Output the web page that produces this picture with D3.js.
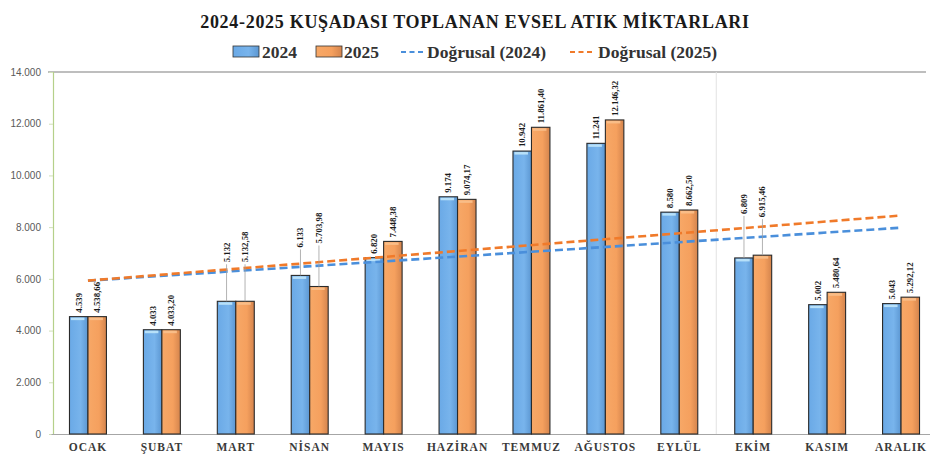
<!DOCTYPE html>
<html><head><meta charset="utf-8">
<script src="https://cdn.jsdelivr.net/npm/d3@7/dist/d3.min.js"></script>
<style>
html,body{margin:0;padding:0;background:#fff;overflow:hidden;}
svg{display:block;}
</style></head>
<body>
<svg id="c" width="930" height="454"></svg>
<script>
const months = ["OCAK","ŞUBAT","MART","NİSAN","MAYIS","HAZİRAN","TEMMUZ","AĞUSTOS","EYLÜL","EKİM","KASIM","ARALIK"];
const values2024 = [4539,4033,5132,6133,6820,9174,10942,11241,8580,6809,5002,5043];
const values2025 = [4538.66,4033.20,5132.58,5703.98,7448.38,9074.17,11861.40,12146.32,8662.50,6915.46,5480.64,5292.12];
const yTicks = [0,2000,4000,6000,8000,10000,12000,14000];
const seriesNames = ["2024","2025"];
const title = "2024-2025 KUŞADASI TOPLANAN EVSEL ATIK MİKTARLARI";
// label lift (px) above bar for labels that use leader lines
const lift2024 = [0,0,35,24,0,0,0,0,0,40,0,0];
const lift2025 = [0,0,35,39,0,0,0,0,0,34,0,0];

const loc = d3.formatLocale({decimal:",",thousands:".",grouping:[3],currency:["","₺"]});
const fInt = loc.format(",.0f");
const fDec = loc.format(",.2f");

const svg = d3.select("#c");
const M={left:51,right:938,top:72,bottom:434};

const x = d3.scaleBand().domain(months).range([M.left,M.right]).paddingInner(0).paddingOuter(0);
const x1 = d3.scaleBand().domain(seriesNames).range([0,x.bandwidth()]).paddingInner(0).paddingOuter(1);
const y = d3.scaleLinear().domain([0,14000]).range([M.bottom,M.top]);

const defs = svg.append("defs");
const gB = defs.append("linearGradient").attr("id","gb").attr("x1","0").attr("x2","1").attr("y1","0").attr("y2","0");
gB.append("stop").attr("offset","0").attr("stop-color","#6aa9e6");
gB.append("stop").attr("offset","0.6").attr("stop-color","#78b4ec");
gB.append("stop").attr("offset","1").attr("stop-color","#5c97d2");
const gO = defs.append("linearGradient").attr("id","go").attr("x1","0").attr("x2","1").attr("y1","0").attr("y2","0");
gO.append("stop").attr("offset","0").attr("stop-color","#f7a867");
gO.append("stop").attr("offset","0.6").attr("stop-color","#f5a05e");
gO.append("stop").attr("offset","1").attr("stop-color","#d4844d");

// Title
svg.append("text").attr("x",475).attr("y",28).attr("text-anchor","middle")
  .attr("font-family","'Liberation Serif','Times New Roman',serif").attr("font-weight","bold")
  .attr("font-size",18).attr("letter-spacing","0.7").attr("fill","#1a1a1a").text(title);

// Legend
const lg = svg.append("g").attr("font-family","'Liberation Serif','Times New Roman',serif")
  .attr("font-weight","bold").attr("font-size",17.5).attr("fill","#333");
lg.append("rect").attr("x",233).attr("y",46).attr("width",26).attr("height",11).attr("fill","url(#gb)").attr("stroke","#333").attr("stroke-width",0.8);
lg.append("text").attr("x",262).attr("y",58).text(seriesNames[0]);
lg.append("rect").attr("x",316).attr("y",46).attr("width",26).attr("height",11).attr("fill","url(#go)").attr("stroke","#333").attr("stroke-width",0.8);
lg.append("text").attr("x",344).attr("y",58).text(seriesNames[1]);
lg.append("line").attr("x1",401).attr("x2",424).attr("y1",52).attr("y2",52).attr("stroke","#4a8fdb").attr("stroke-width",2.2).attr("stroke-dasharray","5,3.5");
lg.append("text").attr("x",427).attr("y",58).text("Doğrusal (2024)");
lg.append("line").attr("x1",570).attr("x2",594).attr("y1",52).attr("y2",52).attr("stroke","#f07a2a").attr("stroke-width",2.2).attr("stroke-dasharray","5,3.5");
lg.append("text").attr("x",598).attr("y",58).text("Doğrusal (2025)");

// top border of plot
svg.append("line").attr("x1",48).attr("x2",926).attr("y1",M.top).attr("y2",M.top).attr("stroke","#7f7f7f").attr("stroke-width",1.2);
// faint vertical line
svg.append("line").attr("x1",x("EKİM")).attr("x2",x("EKİM")).attr("y1",M.top).attr("y2",M.bottom).attr("stroke","#e2e2e2").attr("stroke-width",1);

// Y axis
const yAxis = d3.axisLeft(y).tickValues(yTicks).tickFormat(d=>fInt(d)).tickSize(4).tickPadding(8);
const ya = svg.append("g").attr("transform",`translate(${M.left+2},0)`).call(yAxis);
ya.select(".domain").attr("stroke","#b5d08a").attr("stroke-width",1.2);
ya.selectAll(".tick line").attr("stroke","#d0e0b8");
ya.selectAll("text").attr("font-family","'Liberation Sans',Arial,sans-serif").attr("font-size",10).attr("fill","#595959");

// X axis
const xAxis = d3.axisBottom(x).tickSize(0).tickPadding(9);
const xa = svg.append("g").attr("transform",`translate(0,${M.bottom})`).call(xAxis);
xa.select(".domain").attr("stroke","#a6a6a6").attr("stroke-width",1);
xa.selectAll("text").attr("font-family","'Liberation Serif','Times New Roman',serif").attr("font-weight","bold")
  .attr("font-size",11.5).attr("letter-spacing","1").attr("fill","#3a3a3a");

// Bars
const g = svg.append("g");
seriesNames.forEach((s,si)=>{
  const vals = si===0?values2024:values2025;
  const gs = g.append("g");
  gs.selectAll("rect.bar").data(months).join("rect").attr("class","bar")
    .attr("x",(m)=>x(m)+x1(s)).attr("width",x1.bandwidth())
    .attr("y",(m,i)=>y(vals[i])).attr("height",(m,i)=>y(0)-y(vals[i]))
    .attr("fill",si===0?"url(#gb)":"url(#go)").attr("stroke","#2a2a2a").attr("stroke-width",1.1);
  gs.selectAll("rect.hl").data(months).join("rect").attr("class","hl")
    .attr("x",(m)=>x(m)+x1(s)+1.5).attr("width",x1.bandwidth()-5)
    .attr("y",(m,i)=>y(vals[i])+1).attr("height",2.5)
    .attr("fill",si===0?"#bfe6fb":"#f9c08c").attr("opacity",0.9);
});

// Trend lines (least squares over the monthly data)
function trend(vals){
  const n=vals.length, xs=vals.map((_,i)=>i+1);
  const mx=d3.mean(xs), my=d3.mean(vals);
  const b=d3.sum(xs.map((xx,i)=>(xx-mx)*(vals[i]-my)))/d3.sum(xs.map(xx=>(xx-mx)**2));
  const a=my-b*mx;
  return [a+b*1, a+b*n];
}
const cx = m=>x(m)+x.bandwidth()/2;
[[values2024,"#4a8fdb"],[values2025,"#f07a2a"]].forEach(([vals,col])=>{
  const t=trend(vals);
  svg.append("line").attr("x1",cx(months[0])).attr("x2",cx(months[months.length-1]))
    .attr("y1",y(t[0])).attr("y2",y(t[1]))
    .attr("stroke",col).attr("stroke-width",2.6).attr("stroke-dasharray","8,4");
});

// Value labels
const lab = svg.append("g").attr("font-family","'Liberation Serif','Times New Roman',serif").attr("font-weight","bold")
  .attr("font-size",8.8).attr("fill","#1a1a1a");
seriesNames.forEach((s,si)=>{
  const vals = si===0?values2024:values2025;
  const lifts = si===0?lift2024:lift2025;
  const fmt = si===0?fInt:fDec;
  months.forEach((m,i)=>{
    const xc = x(m)+x1(s)+x1.bandwidth()/2;
    const top = y(vals[i]);
    const base = top-4-lifts[i];
    if(lifts[i]>0){
      lab.append("line").attr("x1",xc).attr("x2",xc).attr("y1",base+2).attr("y2",top)
        .attr("stroke","#a0a0a0").attr("stroke-width",0.8);
    }
    lab.append("text").attr("transform",`translate(${xc+3},${base}) rotate(-90)`)
      .attr("text-anchor","start").text(fmt(vals[i]));
  });
});
</script>
</body></html>
